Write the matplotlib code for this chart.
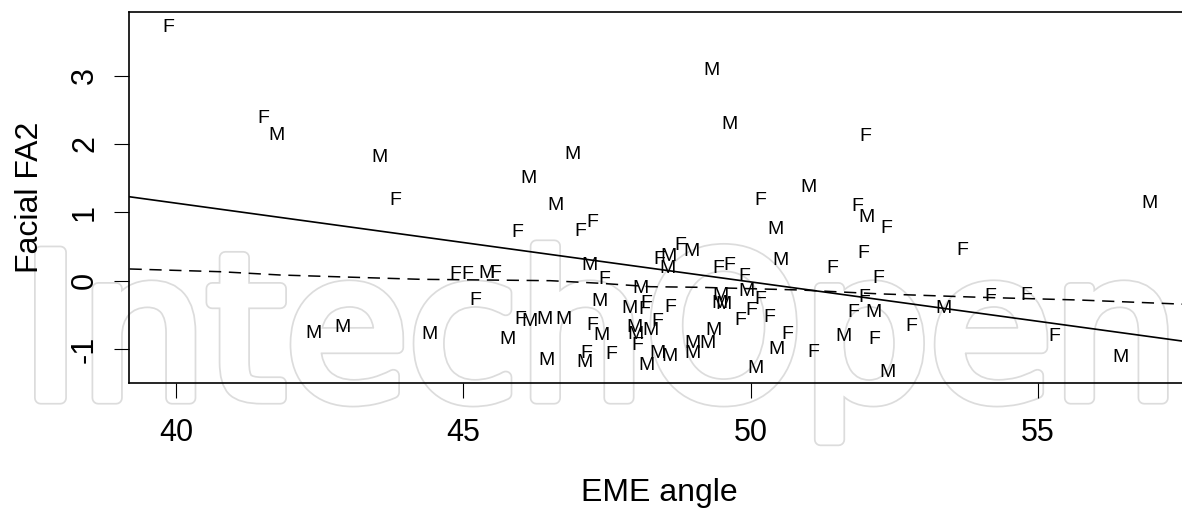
import matplotlib
matplotlib.use("Agg")
import matplotlib.pyplot as plt
import matplotlib.patheffects as pe
import numpy as np

# ---- data ----
female_x = [39.87, 41.51, 43.81, 50.16, 52.00, 44.86, 45.06, 45.55, 45.20, 45.99,
            47.45, 47.25, 47.14, 47.57, 45.93, 47.03, 47.25, 48.77, 48.41, 48.18,
            48.15, 48.61, 48.38, 48.02, 49.44, 49.63, 49.89, 50.16, 50.02, 49.82,
            50.33, 50.63, 51.85, 52.36, 53.69, 51.96, 51.43, 52.22, 51.97, 51.79,
            54.17, 54.79, 52.79, 52.15, 51.09, 55.28]
female_y = [3.70, 2.38, 1.17, 1.17, 2.11, 0.10, 0.10, 0.11, -0.28, -0.56,
            0.02, -0.65, -1.06, -1.07, 0.70, 0.72, 0.85, 0.51, 0.31, -0.33,
            -0.42, -0.39, -0.59, -0.95, 0.18, 0.22, 0.06, -0.27, -0.44, -0.58,
            -0.54, -0.79, 1.08, 0.77, 0.45, 0.40, 0.18, 0.04, -0.24, -0.46,
            -0.23, -0.21, -0.67, -0.85, -1.04, -0.82]

male_x = [41.75, 43.54, 49.32, 49.63, 46.90, 46.13, 46.61, 51.00, 56.94, 45.41,
          42.39, 42.90, 44.41, 46.15, 46.42, 46.74, 45.76, 46.44, 47.19, 47.37,
          47.41, 47.11, 48.97, 48.57, 48.55, 48.08, 47.90, 47.97, 47.99, 48.25,
          48.37, 48.59, 48.19, 48.99, 49.25, 49.35, 48.98, 50.52, 49.47, 49.52,
          49.45, 49.93, 50.45, 50.09, 50.43, 52.01, 52.14, 53.35, 51.61, 52.38,
          56.44]
male_y = [2.12, 1.81, 3.07, 2.28, 1.85, 1.50, 1.10, 1.37, 1.13, 0.11,
          -0.77, -0.68, -0.78, -0.60, -0.57, -0.56, -0.85, -1.16, 0.22, -0.30,
          -0.80, -1.20, 0.43, 0.35, 0.18, -0.11, -0.40, -0.68, -0.79, -0.72,
          -1.06, -1.11, -1.23, -0.91, -0.91, -0.73, -1.06, 0.30, -0.21, -0.34,
          -0.33, -0.16, -1.00, -1.28, 0.75, 0.92, -0.46, -0.40, -0.82, -1.34,
          -1.12]

# straight fit line y = a + b*x
fit_intercept = 5.74
fit_slope = -0.1151

# smooth (dashed) curve nodes
smooth_x = [39.19, 40.77, 41.81, 43.08, 44.25, 46.51, 47.38, 48.25, 49.12,
            49.99, 50.86, 52.25, 53.99, 55.73, 57.51]
smooth_y = [0.174, 0.134, 0.086, 0.053, 0.023, 0.003, -0.035, -0.085, -0.094,
            -0.114, -0.133, -0.19, -0.24, -0.28, -0.34]

x_ticks = [40, 45, 50, 55]
y_ticks = [-1, 0, 1, 2, 3]
watermark = "IntechOpen"

# ---- figure ----
plt.rcParams['font.family'] = ['Liberation Sans', 'DejaVu Sans']
W, H = 1182, 511
fig = plt.figure(figsize=(W / 100, H / 100), dpi=100)

# faint outlined watermark behind the plot (hollow, rounded letters)
fig.text(21 / W, 1 - 398 / H, watermark, fontsize=144, family="DejaVu Sans",
         color="white", ha="left", va="baseline", zorder=-5,
         path_effects=[pe.Stroke(linewidth=9.5, foreground="#dcdcdc", joinstyle="round"),
                       pe.Stroke(linewidth=7.0, foreground="white", joinstyle="round"),
                       pe.Normal()])

left, right, top, bottom = 129, 1189.6, 12, 383.3
ax = fig.add_axes([left / W, 1 - bottom / H, (right - left) / W, (bottom - top) / H])
ax.set_facecolor("none")
ax.set_xlim(39.18, 57.64)
ax.set_ylim(-1.497, 3.93)

for xv, yv in zip(female_x, female_y):
    ax.text(xv, yv, "F", ha="center", va="center", fontsize=14, color="black", zorder=3)
for xv, yv in zip(male_x, male_y):
    ax.text(xv, yv, "M", ha="center", va="center", fontsize=14, color="black", zorder=3)

xl = np.array(ax.get_xlim())
ax.plot(xl, fit_intercept + fit_slope * xl, color="black", lw=1.2, zorder=2)
ax.plot(smooth_x, smooth_y, color="black", lw=1.1, dashes=(8, 5), zorder=2)

ax.set_xticks(x_ticks)
ax.set_yticks(y_ticks)
ax.set_xticklabels([str(t) for t in x_ticks])
ax.set_yticklabels([str(t) for t in y_ticks], rotation=90, va="center")
ax.tick_params(axis="both", length=10.8, width=0.8, labelsize=22, color="black")
ax.tick_params(axis="x", pad=14)
ax.tick_params(axis="y", pad=10)
for s in ax.spines.values():
    s.set_linewidth(1.2)

ax.set_xlabel("EME angle", fontsize=23, labelpad=22)
ax.set_ylabel("Facial FA2", fontsize=23, labelpad=18)

fig.savefig("out.png", dpi=100)
